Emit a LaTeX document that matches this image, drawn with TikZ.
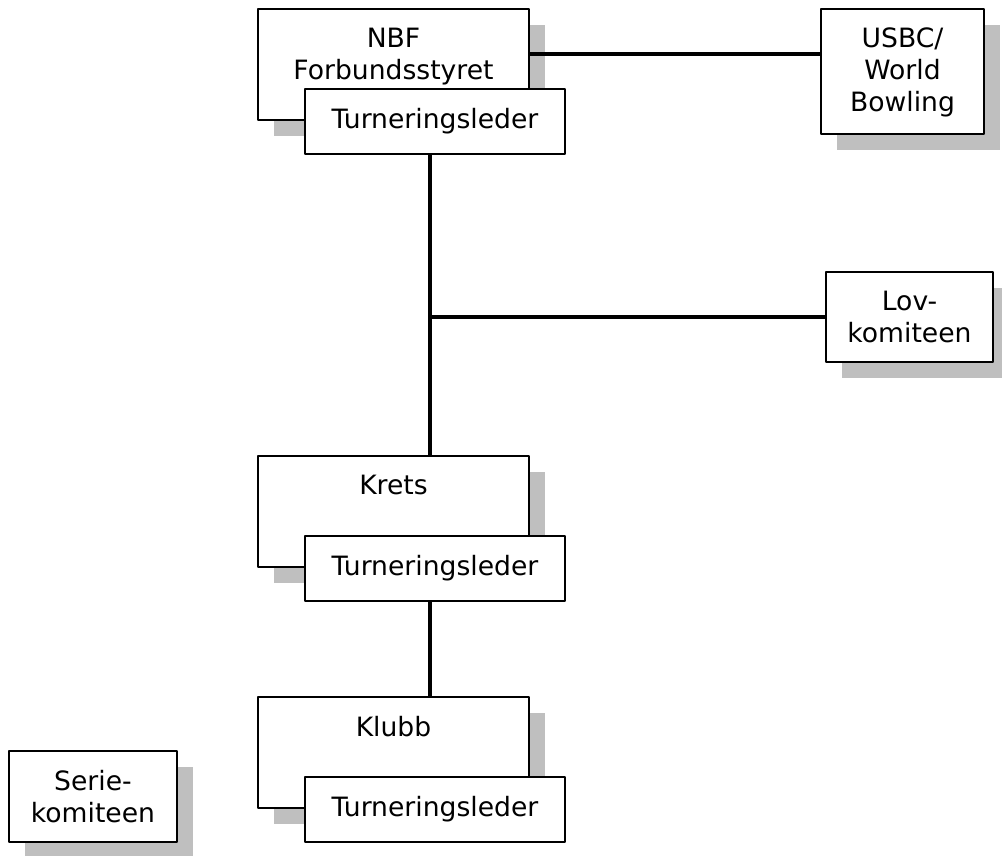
\documentclass[tikz,border=0pt]{standalone}
\usepackage{fontspec}
\setmainfont{DejaVu Sans}
\usetikzlibrary{shadows}
\begin{document}
\begin{tikzpicture}[x=1pt,y=-1pt,font=\fontsize{26.6}{32}\selectfont, line join=round,
	unit/.style={draw,line width=1.8pt,fill=white,inner sep=0pt,outer sep=0pt,anchor=north west},
	shadowed/.style={drop shadow={shadow xshift=16pt,shadow yshift=-16pt,fill=black!25,opacity=1}},
	lbl/.style={anchor=north,yshift=-19pt,inner sep=0pt,align=center},
	leader/.style={unit,minimum width=260pt,minimum height=65pt},
	link/.style={line width=4.5pt}]
	\useasboundingbox (0,0) rectangle (1002,855);
	% levels with their Turneringsleder
	\foreach \n/\y/\t in {nbf/9/{NBF\\Forbundsstyret},krets/456/Krets,klubb/697/Klubb}{
		\node[unit,shadowed,minimum width=271pt,minimum height=111pt,label={[lbl]north:\t}] (\n) at (258,\y) {};
		\node[leader] (lead\n) at ([shift={(47,80)}]\n.north west) {Turneringsleder};}
	\node[unit,shadowed,minimum width=163pt,minimum height=125pt,label={[lbl]north:USBC/\\World\\Bowling}] (usbc) at (821,9) {};
	\node[unit,shadowed,minimum width=167pt,minimum height=90pt,label={[lbl]north:Lov-\\komiteen}] (lov) at (826,272) {};
	\node[unit,shadowed,minimum width=168pt,minimum height=91pt,label={[lbl]north:Serie-\\komiteen}] (serie) at (9,751) {};
	% connectors
	\coordinate (spine) at (430,0);
	\draw[link] ([yshift=10.5pt]nbf.east) coordinate (a) -- (a -| usbc.west);
	\draw[link] (leadnbf.south -| spine) -- (krets.north -| spine);
	\draw[link] (spine |- lov.west) -- (lov.west);
	\draw[link] (leadkrets.south -| spine) -- (klubb.north -| spine);
\end{tikzpicture}
\end{document}
